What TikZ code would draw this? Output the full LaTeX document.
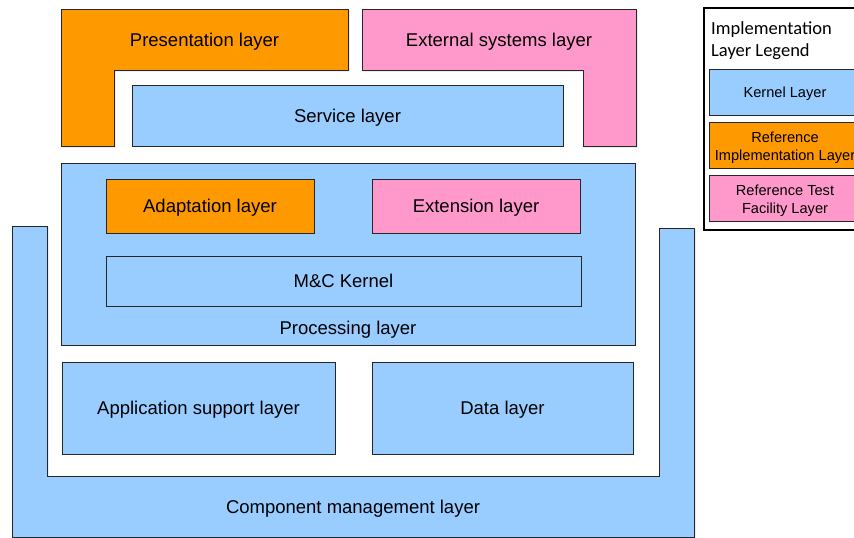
\documentclass[tikz,border=0pt]{standalone}
\usepackage{fontspec}
\setmainfont{Liberation Sans}
\newfontfamily\legendfont{Carlito}
\usetikzlibrary{positioning, shadows}
\definecolor{KernelBlue}{HTML}{99CCFF}
\definecolor{RefOrange}{HTML}{FF9900}
\definecolor{TestPink}{HTML}{FF99CC}
\tikzset{
    layer/.style={draw=black!85, line width=0.8pt, inner sep=0pt, outer sep=0pt,
                  drop shadow={shadow xshift=1.2pt, shadow yshift=-1.2pt, fill=black!60, opacity=1}},
    kernelbox/.style={layer, fill=KernelBlue},
    implbox/.style={layer, fill=RefOrange},
    testbox/.style={layer, fill=TestPink},
    boxtext/.style={font=\fontsize{18.5}{22}\selectfont, text depth=0pt},
    legendtext/.style={font=\fontsize{14.6}{18}\selectfont, align=center}
}
\begin{document}
\begin{tikzpicture}[x=1pt, y=-1pt]
    \useasboundingbox (0,0) rectangle (854,538);

    % Top: presentation and external systems (L-shaped)
    \draw[implbox] (61,9) -| (348,70) -| (114,146) -| cycle;
    \node[boxtext] (presentation) at (204.5,39.5) {Presentation layer};
    \draw[testbox] (362,9) -| (636,146) -| (583,70) -| cycle;
    \node[boxtext] (external) at (499,39.5) {External systems layer};

    \node[kernelbox, boxtext, anchor=north west, minimum width=431pt, minimum height=61pt]
        (service) at (132,85) {Service layer};

    % Processing layer and its inner layers
    \node[kernelbox, anchor=north west, minimum width=574pt, minimum height=182pt]
        (processing) at (61,163) {};
    \node[implbox, boxtext, anchor=north west, minimum width=208pt, minimum height=54pt]
        (adaptation) at (106,179) {Adaptation layer};
    \node[testbox, boxtext, anchor=north west, minimum width=208pt, minimum height=54pt]
        (extension) at (372,179) {Extension layer};
    \node[kernelbox, boxtext, anchor=north west, minimum width=475pt, minimum height=50pt]
        (mckernel) at (106,256) {M\&C Kernel};
    \node[boxtext] (proclabel) at (348,328) {Processing layer};

    % Lower layers
    \node[kernelbox, boxtext, anchor=north west, minimum width=273pt, minimum height=92pt]
        (appsupport) at (62,362) {Application support layer};
    \node[kernelbox, boxtext, anchor=north west, minimum width=261pt, minimum height=92pt]
        (datalayer) at (372,362) {Data layer};

    % Component management (U-shaped)
    \draw[kernelbox] (12,226) -- (47,226) -- (47,476) -- (659,476) -- (659,228)
        -- (694,228) -- (694,537) -- (12,537) -- cycle;
    \node[boxtext] (compmgmt) at (353,506.5) {Component management layer};

    % Legend
    \draw[line width=2pt] (704,8) rectangle (866,230);
    \node[anchor=north west, align=left, inner sep=0pt, font=\legendfont\fontsize{18.5}{22}\selectfont]
        (legendtitle) at (711,21.5) {Implementation\\Layer Legend};
    \node[kernelbox, anchor=north west, minimum width=152pt, minimum height=46pt]
        (legkernel) at (709,69) {};
    \node[implbox, anchor=north west, minimum width=152pt, minimum height=46pt]
        (legimpl) at (709,122) {};
    \node[testbox, anchor=north west, minimum width=152pt, minimum height=46pt]
        (legtest) at (709,175) {};
    \node[legendtext] (legkerneltext) at ([yshift=-2pt]legkernel.center) {Kernel Layer};
    \node[legendtext] (legimpltext) at ([yshift=-3pt]legimpl.center) {Reference\\Implementation Layer};
    \node[legendtext] (legtesttext) at ([yshift=-3pt]legtest.center) {Reference Test\\Facility Layer};
\end{tikzpicture}
\end{document}
